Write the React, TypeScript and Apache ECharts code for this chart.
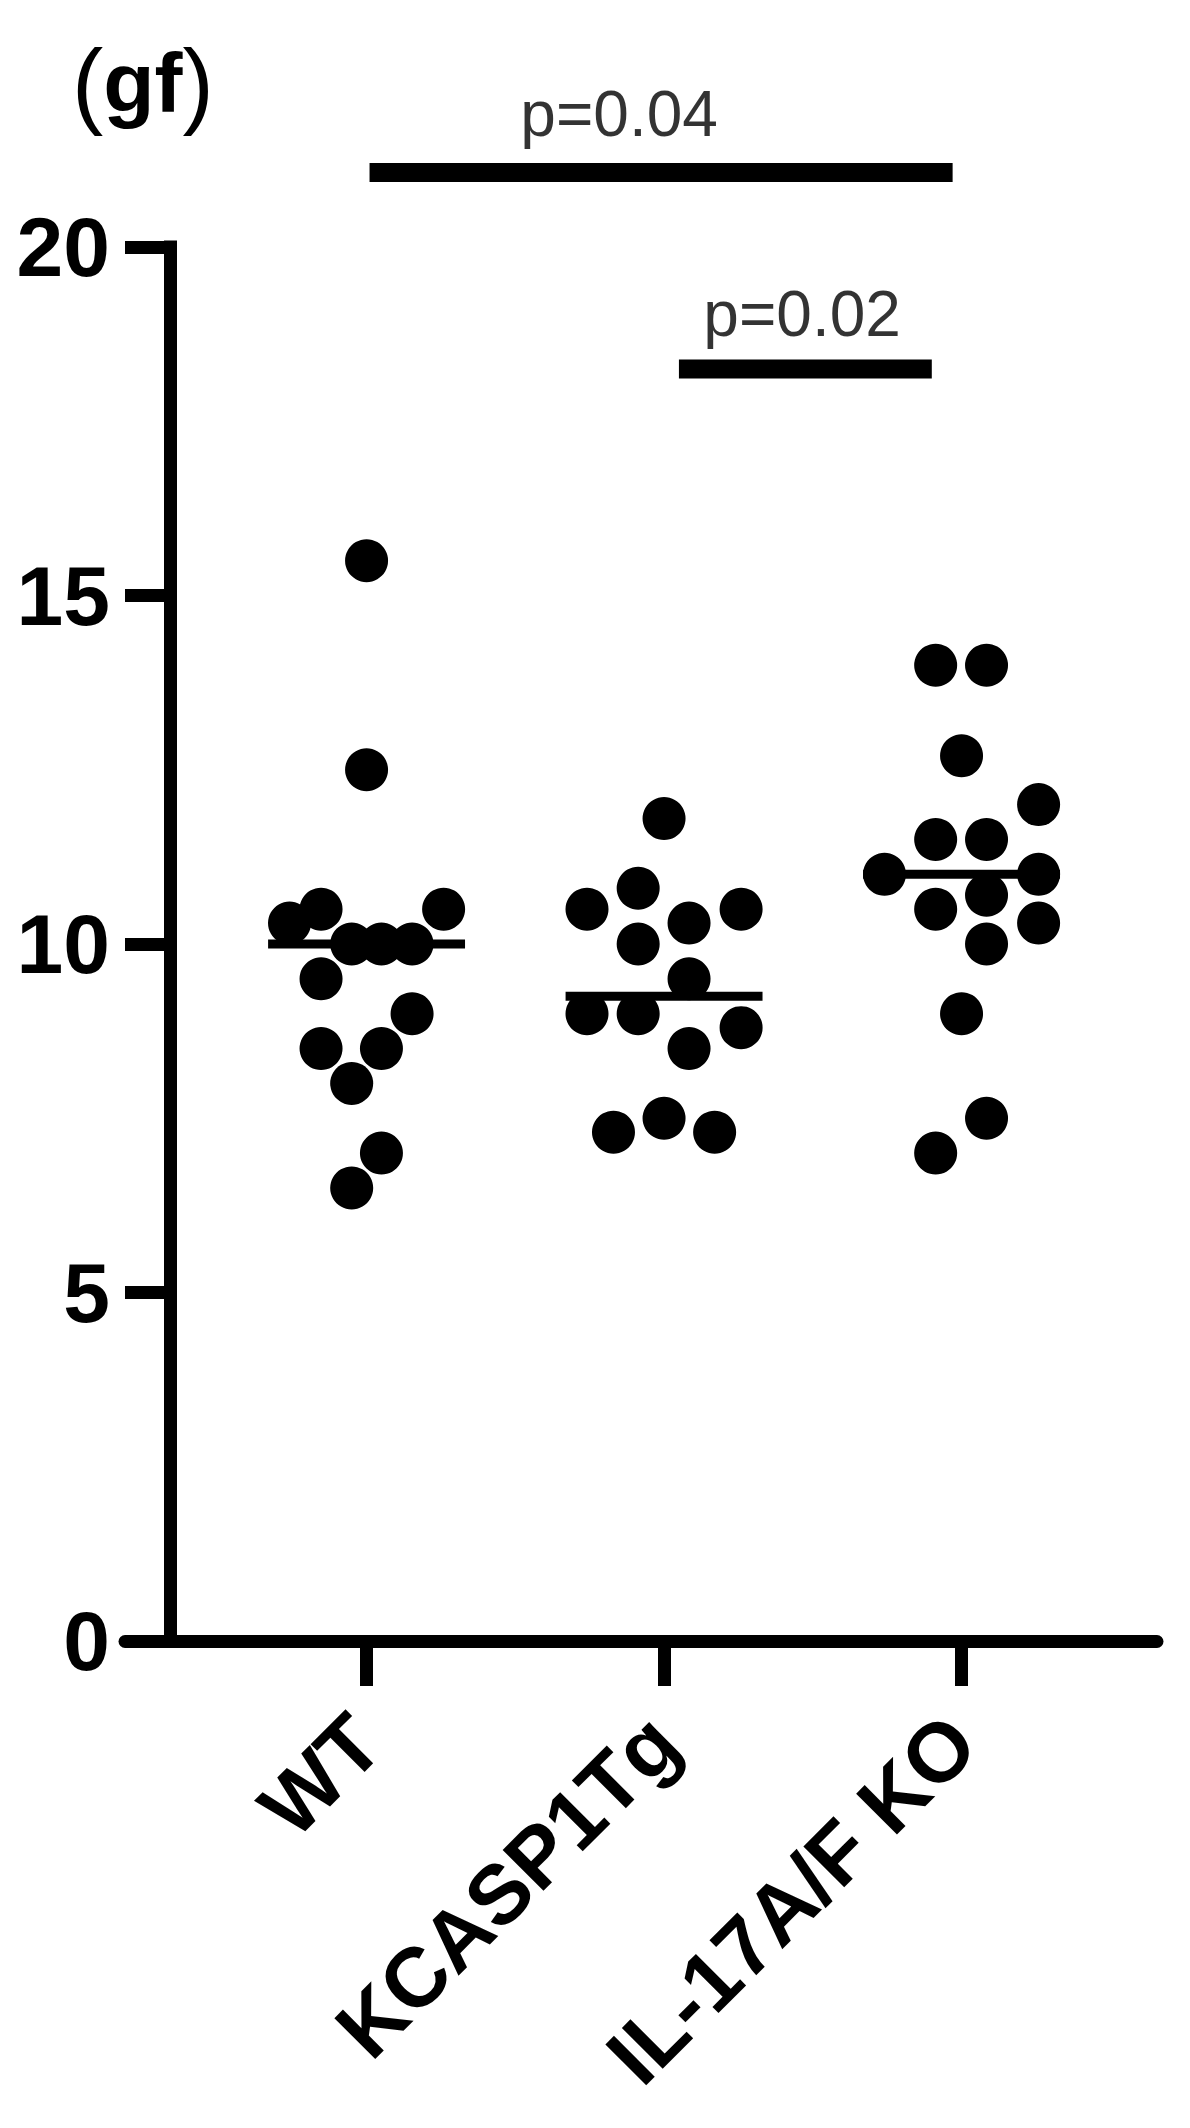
import React, { useEffect, useRef } from 'react';
import * as echarts from 'echarts';

const categories = ['WT', 'KCASP1Tg', 'IL-17A/F KO'];
const yTickMax = 20;
const yTickStep = 5;

const wtValues = [15.5, 12.5, 10.3, 10.5, 10.5, 10.0, 10.0, 10.0, 9.5, 9.0, 8.5, 8.5, 8.0, 7.0, 6.5];
const wtJitter = [0, 0, -0.259, -0.153, 0.259, -0.05, 0.05, 0.153, -0.153, 0.153, -0.153, 0.05, -0.05, 0.05, -0.05];

const kcValues = [11.8, 10.8, 10.5, 10.5, 10.3, 10.0, 9.5, 9.0, 9.0, 8.8, 8.5, 7.3, 7.5, 7.3];
const kcJitter = [0, -0.087, -0.259, 0.259, 0.084, -0.087, 0.084, -0.259, -0.087, 0.259, 0.084, -0.17, 0, 0.17];

const ilValues = [14.0, 14.0, 12.7, 12.0, 11.5, 11.5, 11.0, 11.0, 10.5, 10.7, 10.3, 10.0, 9.0, 7.5, 7.0];
const ilJitter = [-0.087, 0.084, 0, 0.259, -0.087, 0.084, -0.259, 0.259, -0.087, 0.084, 0.259, 0.084, 0, 0.084, -0.087];

const groups = [
  { values: wtValues, jitter: wtJitter },
  { values: kcValues, jitter: kcJitter },
  { values: ilValues, jitter: ilJitter },
];

const comparisonLabels = ['p=0.04', 'p=0.02'];
const comparisonFrom = [1.01, 2.05];
const comparisonTo = [2.97, 2.9];
const comparisonY = [21.07, 18.25];
const comparisonLabelX = [1.849, 2.464];
const comparisonLabelY = [21.91, 19.04];

const unitLabel = 'gf';

function median(arr: number[]): number {
  const s = [...arr].sort((a, b) => a - b);
  const n = s.length;
  return n % 2 ? s[(n - 1) / 2] : (s[n / 2 - 1] + s[n / 2]) / 2;
}

const FONT = 'Liberation Sans, Arial, sans-serif';

export default function App() {
  const ref = useRef<HTMLDivElement>(null);
  useEffect(() => {
    document.body.style.margin = '0';
    if (!ref.current) return;
    const chart = echarts.init(ref.current, null, { renderer: 'svg' });
    const series: any[] = [];
    groups.forEach((g, i) => {
      const cx = i + 1;
      series.push({
        type: 'scatter',
        data: g.values.map((v, k) => [cx + g.jitter[k], v]),
        symbol: 'circle',
        symbolSize: 43,
        itemStyle: { color: '#000', opacity: 1 },
        z: 3,
        silent: true,
      });
      const m = median(g.values);
      series.push({
        type: 'line',
        data: [[cx - 0.331, m], [cx + 0.331, m]],
        symbol: 'none',
        lineStyle: { color: '#000', width: 9 },
        z: 2,
        silent: true,
      });
    });
    comparisonLabels.forEach((lab, i) => {
      series.push({
        type: 'line',
        clip: false,
        data: [[comparisonFrom[i], comparisonY[i]], [comparisonTo[i], comparisonY[i]]],
        symbol: 'none',
        lineStyle: { color: '#000', width: 19, cap: 'butt' },
        silent: true,
      });
      series.push({
        type: 'scatter',
        clip: false,
        data: [[comparisonLabelX[i], comparisonLabelY[i]]],
        symbolSize: 0.1,
        itemStyle: { color: 'rgba(0,0,0,0)' },
        label: {
          show: true,
          position: 'inside',
          formatter: lab,
          color: '#000',
          fontSize: 64,
          fontFamily: FONT,
          fontWeight: 'normal',
          textBorderWidth: 0,
        },
        silent: true,
      });
    });

    chart.setOption({
      animation: false,
      backgroundColor: '#fff',
      grid: { left: 125, right: 33, top: 247, bottom: 487 },
      xAxis: {
        type: 'value',
        min: 0.188,
        max: 3.657,
        axisLine: { show: true, onZero: false, lineStyle: { color: '#000', width: 13 } },
        axisTick: { show: true, customValues: [1, 2, 3], length: 45, lineStyle: { color: '#000', width: 13 } },
        axisLabel: {
          show: true,
          customValues: [1, 2, 3],
          formatter: (v: number) => categories[Math.round(v) - 1] ?? '',
          rotate: 45,
          margin: 88,
          fontSize: 84,
          fontWeight: 'bold',
          fontFamily: FONT,
          color: '#000',
        },
        splitLine: { show: false },
      },
      yAxis: {
        type: 'value',
        min: 0,
        max: yTickMax,
        interval: yTickStep,
        offset: -45,
        axisLine: { show: true, lineStyle: { color: '#000', width: 13, cap: 'square' } },
        axisTick: { show: true, length: 45, lineStyle: { color: '#000', width: 13 } },
        axisLabel: {
          fontSize: 84,
          fontWeight: 'bold',
          fontFamily: FONT,
          color: '#000',
          margin: 60,
        },
        splitLine: { show: false },
      },
      graphic: [
        {
          type: 'text',
          left: 72,
          top: 36,
          style: {
            text: '{p|(}{b|' + unitLabel + '}{p|)}',
            rich: {
              p: { fontSize: 94, fontFamily: FONT, fontWeight: 'normal', fill: '#000' },
              b: { fontSize: 84, fontFamily: FONT, fontWeight: 'bold', fill: '#000' },
            },
          },
        },
      ],
      series,
    });
    return () => chart.dispose();
  }, []);
  return <div ref={ref} style={{ width: 1190, height: 2128 }} />;
}
